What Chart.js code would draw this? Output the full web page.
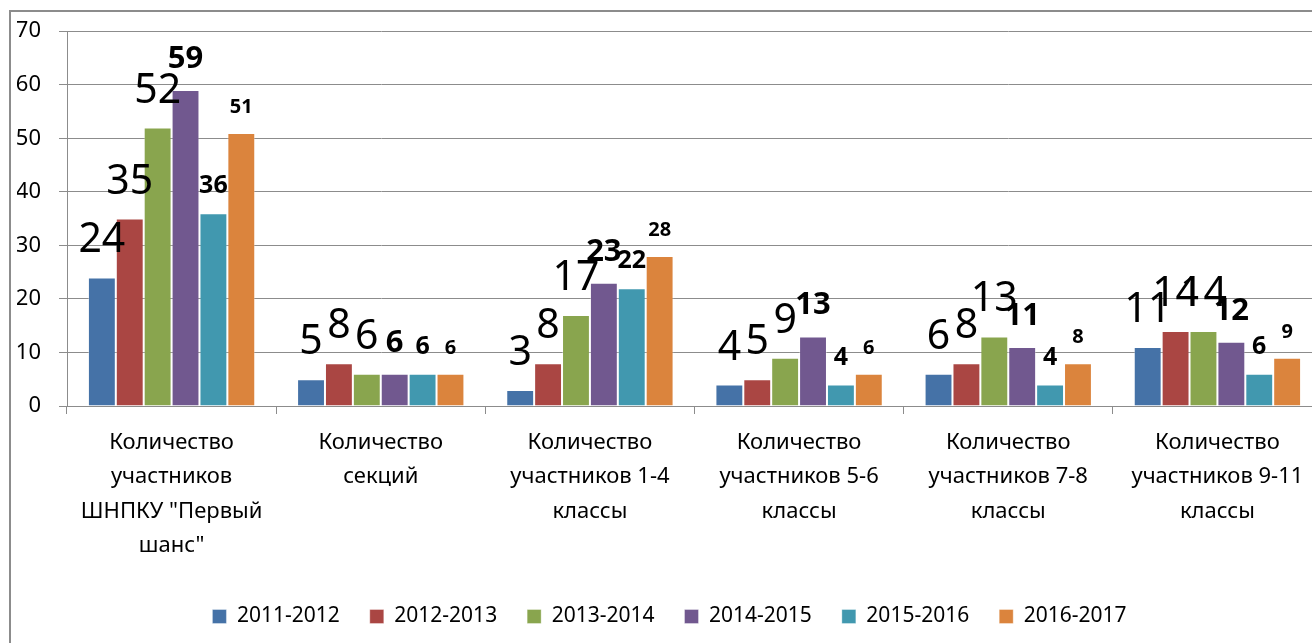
<!DOCTYPE html>
<html>
<head>
<meta charset="utf-8">
<script src="https://cdn.jsdelivr.net/npm/chart.js@4/dist/chart.umd.min.js"></script>
<style>
html,body{margin:0;padding:0;background:#fff;overflow:hidden;width:1312px;height:643px;}
#frame{position:absolute;left:9px;top:10px;border-left:2px solid #8c8c8c;border-top:2px solid #8c8c8c;width:1340px;height:700px;}
canvas{position:absolute;left:0;top:-12px;}
</style>
</head>
<body>
<div id="frame"><canvas id="c" width="1324" height="641"></canvas></div>
<script>
const categories = [
  ['Количество', 'участников', 'ШНПКУ "Первый', 'шанс"'],
  ['Количество', 'секций'],
  ['Количество', 'участников 1-4', 'классы'],
  ['Количество', 'участников 5-6', 'классы'],
  ['Количество', 'участников 7-8', 'классы'],
  ['Количество', 'участников 9-11', 'классы']
];
const seriesNames = ['2011-2012', '2012-2013', '2013-2014', '2014-2015', '2015-2016', '2016-2017'];
const v2011 = [24, 5, 3, 4, 6, 11];
const v2012 = [35, 8, 8, 5, 8, 14];
const v2013 = [52, 6, 17, 9, 13, 14];
const v2014 = [59, 6, 23, 13, 11, 12];
const v2015 = [36, 6, 22, 4, 4, 6];
const v2016 = [51, 6, 28, 6, 8, 9];
const yTicks = [0, 10, 20, 30, 40, 50, 60, 70];

const colors = ['#4572A7', '#AA4643', '#89A54E', '#71588F', '#4198AF', '#DB843D'];
const labelFonts = [
  {size: 41, weight: 'normal', off: 25},
  {size: 41, weight: 'normal', off: 25},
  {size: 41, weight: 'normal', off: 25},
  {size: 31, weight: 'bold', off: 22},
  {size: 25, weight: 'bold', off: 20},
  {size: 20, weight: 'bold', off: 20}
];
const allValues = [v2011, v2012, v2013, v2014, v2015, v2016];

const valueLabels = {
  id: 'valueLabels',
  afterDatasetsDraw(chart) {
    const ctx = chart.ctx;
    chart.data.datasets.forEach((ds, i) => {
      const meta = chart.getDatasetMeta(i);
      const f = labelFonts[i];
      ctx.save();
      ctx.font = f.weight + ' ' + f.size + 'px "Noto Sans"';
      ctx.fillStyle = '#000';
      ctx.textAlign = 'center';
      ctx.textBaseline = 'alphabetic';
      meta.data.forEach((el, j) => {
        ctx.fillText(String(ds.data[j]), el.x, el.y - f.off);
      });
      ctx.restore();
    });
  }
};

Chart.defaults.font.family = '"Noto Sans", sans-serif';
Chart.defaults.color = '#000';

new Chart(document.getElementById('c'), {
  type: 'bar',
  data: {
    labels: categories,
    datasets: seriesNames.map((n, i) => ({
      label: n,
      data: allValues[i],
      backgroundColor: colors[i],
      borderColor: 'rgba(255,255,255,0.35)',
      borderWidth: 1,
      categoryPercentage: 0.8,
      barPercentage: 1.0
    }))
  },
  options: {
    responsive: false,
    animation: false,
    devicePixelRatio: 1,
    layout: {padding: {top: 0, right: 13, left: 6, bottom: 4}},
    plugins: {
      legend: {
        position: 'bottom',
        labels: {
          boxWidth: 14, boxHeight: 14, padding: 30,
          font: {size: 21},
          color: '#000'
        }
      },
      tooltip: {enabled: false}
    },
    scales: {
      x: {
        offset: true,
        grid: {display: true, drawOnChartArea: false, offset: true, color: '#8c8c8c', tickLength: 8},
        border: {color: '#8c8c8c', width: 1},
        ticks: {font: {size: 22, lineHeight: 1.55}, padding: 12, maxRotation: 0, autoSkip: false, color: '#000'},
        afterFit(scale) { scale.height = 170; }
      },
      y: {
        min: 0, max: 70,
        afterBuildTicks(scale) { scale.ticks = yTicks.map(v => ({value: v})); },
        grid: {color: '#8c8c8c', tickLength: 8},
        border: {color: '#8c8c8c', width: 1},
        ticks: {font: {size: 22}, padding: 18, color: '#000'},
        afterFit(scale) { scale.width = 50; }
      }
    }
  },
  plugins: [valueLabels]
});
</script>
</body>
</html>
